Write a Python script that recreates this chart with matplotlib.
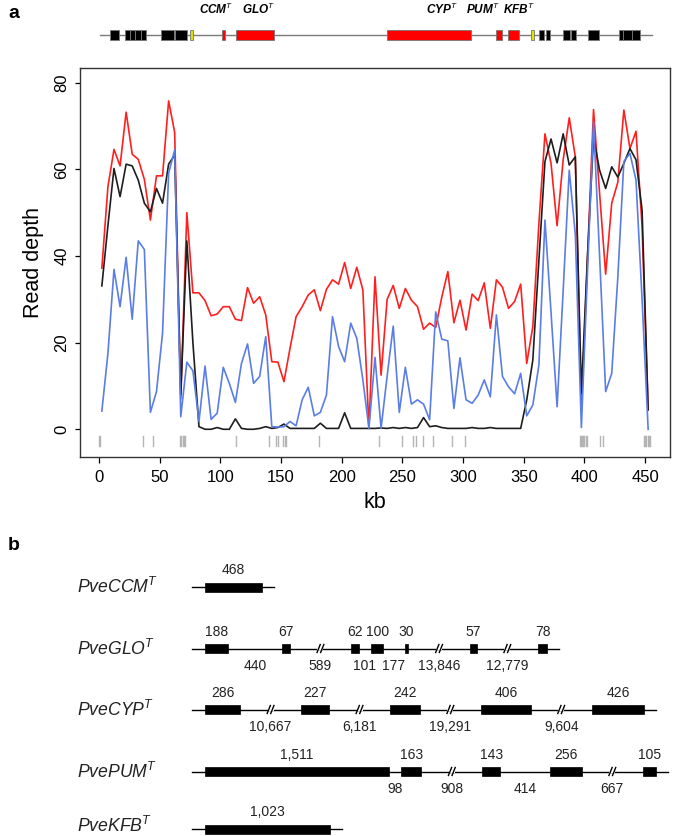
import numpy as np
import matplotlib.pyplot as plt
from matplotlib.patches import Rectangle

plt.rcParams['font.family'] = ['Liberation Sans', 'DejaVu Sans']
plt.rcParams['mathtext.fontset'] = 'custom'
plt.rcParams['mathtext.it'] = 'Liberation Sans:italic'
plt.rcParams['mathtext.rm'] = 'Liberation Sans'

# ---- panel a: read depth in 5 kb bins ----
bin_start = 2.5
bin_width = 5
red = [37.2, 56.0, 64.6, 60.8, 73.2, 63.5, 62.3, 57.7, 48.3, 58.5,
       58.5, 75.8, 68.5, 7.0, 50.0, 31.5, 31.5, 29.7, 26.2, 26.6,
       28.3, 28.3, 25.4, 25.1, 32.7, 29.1, 30.6, 26.4, 15.6, 15.5,
       11.0, 18.7, 26.0, 28.3, 31.0, 32.2, 27.4, 32.3, 34.5, 33.5,
       38.5, 32.5, 37.4, 32.2, 0.2, 35.2, 12.5, 30.0, 33.2, 27.9,
       32.5, 29.8, 28.3, 23.1, 24.5, 23.5, 30.5, 36.4, 24.6, 29.8,
       22.9, 31.2, 29.7, 33.8, 23.3, 34.5, 32.8, 27.9, 29.5, 33.5,
       15.2, 23.7, 47.5, 68.2, 61.4, 47.0, 62.2, 71.9, 62.9, 4.5,
       39.1, 73.8, 54.5, 35.8, 52.2, 57.0, 73.7, 64.8, 68.8, 46.8,
       4.5]
black = [33.1, 47.0, 60.2, 53.7, 61.2, 60.8, 57.5, 52.2, 50.2, 55.6,
         52.2, 61.2, 63.3, 8.0, 43.5, 20.0, 0.6, 0.0, 0.0, 0.4,
         0.0, 0.0, 2.4, 0.2, 0.0, 0.0, 0.2, 0.6, 0.2, 0.4,
         1.2, 0.2, 0.2, 0.2, 0.2, 0.2, 1.4, 0.2, 0.2, 0.2,
         3.8, 0.2, 0.2, 0.2, 0.2, 0.2, 0.3, 0.2, 0.4, 0.2,
         0.4, 0.2, 0.4, 2.7, 0.6, 0.8, 0.4, 0.2, 0.2, 0.2,
         0.2, 0.4, 0.2, 0.2, 0.4, 0.2, 0.2, 0.2, 0.2, 0.2,
         6.8, 16.0, 39.0, 61.8, 67.0, 61.5, 68.2, 61.0, 62.9, 8.3,
         39.8, 67.5, 59.8, 55.6, 60.6, 58.2, 61.4, 64.8, 62.2, 50.6,
         4.5]
blue = [4.2, 17.5, 36.9, 28.3, 39.7, 25.4, 43.5, 41.5, 3.9, 8.7,
        22.2, 59.1, 64.5, 2.9, 15.5, 13.5, 1.8, 14.6, 2.3, 3.7,
        14.3, 10.6, 6.2, 15.2, 19.7, 10.6, 12.2, 21.4, 0.6, 0.5,
        0.6, 1.8, 0.8, 6.8, 9.7, 3.1, 3.9, 7.9, 26.0, 19.1,
        15.6, 24.5, 21.0, 11.4, 0.2, 16.6, 0.2, 12.3, 23.8, 3.9,
        14.3, 5.8, 6.8, 5.8, 2.2, 27.1, 20.8, 20.4, 4.8, 16.5,
        6.8, 6.0, 7.9, 11.4, 7.5, 26.4, 12.2, 9.8, 8.2, 12.9,
        3.1, 5.6, 14.8, 48.3, 27.0, 5.2, 32.0, 59.8, 45.0, 0.4,
        36.0, 71.0, 40.0, 8.7, 12.9, 35.0, 61.8, 63.7, 57.5, 30.0,
        0.0]
rug_kb = [0.5, 1.0, 36.5, 45, 67, 68, 69, 70, 71, 113, 140, 146, 148, 152, 153,
          154.5, 181, 231, 250, 259, 261.5, 267, 275, 291, 302, 396, 397, 398,
          399, 400, 401, 402, 413, 415.5, 449, 450, 451, 452, 453, 454]

# gene track above panel a (kb)
track_span = (0.8, 455.5)
track_black = [(9.6, 16.7), (21.2, 25.6), (25.8, 29.9), (30.2, 34.4), (34.6, 38.7),
               (51.1, 62.1), (62.6, 72.3), (362.9, 366.8), (368.2, 371.7),
               (382.2, 388.2), (388.8, 393.2), (403.3, 412.1), (428.6, 432.1),
               (432.1, 439.0), (439.6, 445.9)]
track_yellow = [(75.0, 77.2), (356.0, 358.3)]
track_red = [(101.6, 103.8), (112.9, 144.5), (237.6, 306.4), (327.0, 331.9), (337.3, 346.2)]
track_names = ['CCM', 'GLO', 'CYP', 'PUM', 'KFB']
track_label_kb = [97, 131.3, 282.4, 316.7, 346.4]

# ---- panel b: gene structures ----
genes = ['CCM', 'GLO', 'CYP', 'PUM', 'KFB']
exons = [[468],
         [188, 67, 62, 100, 30, 57, 78],
         [286, 227, 242, 406, 426],
         [1511, 163, 143, 256, 105],
         [1023]]
introns = [[],
           [440, 589, 101, 177, 13846, 12779],
           [10667, 6181, 19291, 9604],
           [98, 908, 414, 667],
           []]

W, H = 685, 836
fig = plt.figure(figsize=(W / 100, H / 100), dpi=100)


def px_box(l, t, r, b):
    return [l / W, 1 - b / H, (r - l) / W, (b - t) / H]


ax = fig.add_axes(px_box(80, 68, 670, 457))
x = bin_start + bin_width * np.arange(len(red))
ax.plot(x, red, color='#ff1f1f', lw=1.2)
ax.plot(x, black, color='#1e1e1e', lw=1.2)
ax.plot(x, blue, color='#5a7de6', lw=1.2)
for k in rug_kb:
    ax.plot([k, k], [-1.6, -3.9], color='#b4b4b4', lw=1)
ax.set_xlim(-15.5, 470.5)
ax.set_ylim(-6.4, 83.4)
ax.set_xticks(range(0, 451, 50))
ax.set_yticks(range(0, 81, 20))
ax.tick_params(axis='x', length=4.3, width=0.9, labelsize=12, pad=5)
ax.tick_params(axis='y', length=3.6, width=0.9, labelsize=12, pad=4, labelrotation=90)
for lab in ax.get_yticklabels():
    lab.set_va('center')
for s in ax.spines.values():
    s.set_color('#333333')
    s.set_linewidth(1.0)
ax.set_xlabel('kb', fontsize=15.5)
ax.xaxis.label.set_va('center')
ax.xaxis.set_label_coords(0.5, (457 - 502) / 389)
ax.set_ylabel('Read depth', fontsize=15.5)
ax.yaxis.label.set_va('center')
ax.yaxis.set_label_coords((33 - 80) / 590, 0.5)

# gene track
axt = fig.add_axes(px_box(80, 20, 670, 50))
axt.set_xlim(-15.5, 470.5)
axt.set_ylim(50, 20)
axt.axis('off')
axt.plot(track_span, [35, 35], color='#7a7a7a', lw=1, zorder=1)
for group, fc in [(track_black, 'black'), (track_yellow, '#e0e000'), (track_red, '#ff0000')]:
    for a, b in group:
        axt.add_patch(Rectangle((a, 30), b - a, 10, facecolor=fc,
                                edgecolor='#777777', lw=0.6, zorder=2))
for nm, xk in zip(track_names, track_label_kb):
    axt.text(xk, 9, nm + '$^{T}$', ha='center', va='center', fontsize=8.5,
             fontweight='bold', fontstyle='italic', clip_on=False)

# panel b
axb = fig.add_axes([0, 0, 1, 1], zorder=-1)
axb.set_xlim(0, W)
axb.set_ylim(H, 0)
axb.axis('off')
axb.text(14, 13, 'a', fontsize=14, fontweight='bold', ha='center', va='center')
axb.text(14, 545, 'b', fontsize=14, fontweight='bold', ha='center', va='center')

row_y = [587, 648.5, 709.5, 771.5, 829]
scale = 0.122
broken_len = 61.3
line_x0 = 192
for nm, ex, intr, y in zip(genes, exons, introns, row_y):
    axb.text(77, min(y, 826), 'Pve' + nm + '$^{T}$', fontsize=12.7, fontstyle='italic',
             ha='left', va='center', color='#222222')
    cur = line_x0 + 13
    for j, e in enumerate(ex):
        w = e * scale
        axb.add_patch(Rectangle((cur, y - 4.5), w, 9, facecolor='black',
                                edgecolor='black', lw=0.5, zorder=3))
        axb.text(cur + w / 2, y - 16.5, f'{e:,}', fontsize=10, ha='center',
                 va='center', color='#222222')
        cur += w
        if j < len(intr):
            L = intr[j]
            iw = broken_len if L > 500 else L * scale
            xm = cur + iw / 2
            if L > 500:
                axb.add_patch(Rectangle((xm - 3, y - 1.5), 6, 3, facecolor='white',
                                        edgecolor='none', zorder=2))
                for dx in (-1.8, 1.8):
                    axb.plot([xm + dx - 1.6, xm + dx + 1.6], [y + 4, y - 4],
                             color='black', lw=1, zorder=2)
            axb.text(xm, y + 17.5, f'{L:,}', fontsize=10, ha='center',
                     va='center', color='#222222')
            cur += iw
    axb.plot([line_x0, cur + 12], [y, y], color='black', lw=1, zorder=1)

fig.savefig('out.png', dpi=100)
